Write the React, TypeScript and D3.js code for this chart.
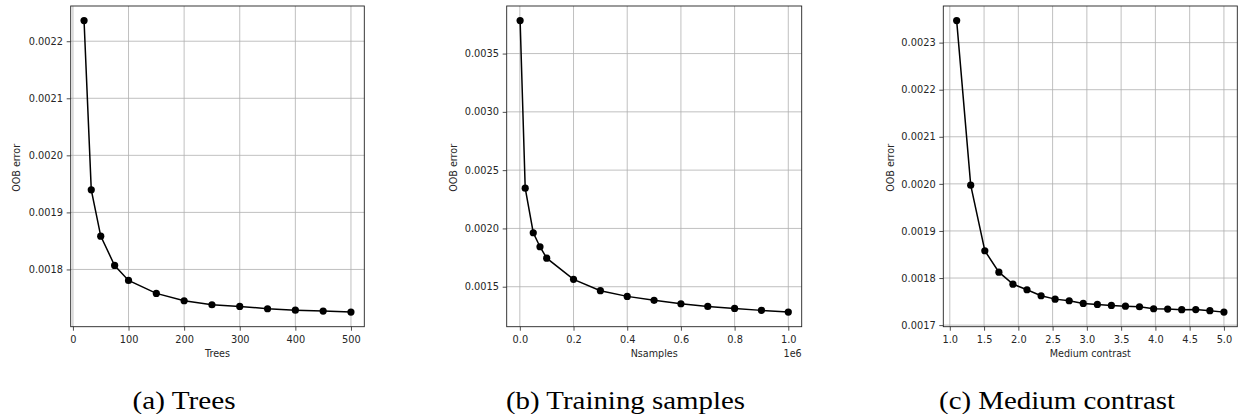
import React, { useEffect, useRef } from 'react';
import * as d3 from 'd3';

// (a) number of trees
const trees = [20, 33, 50, 75, 100, 150, 200, 250, 300, 350, 400, 450, 500];
const treesErr = [0.0022362, 0.0019396, 0.0018584, 0.001807, 0.0017807, 0.001758, 0.0017451,
    0.0017381, 0.0017352, 0.0017311, 0.0017287, 0.001727, 0.0017252];

// (b) training samples
const nSamples = [1000, 20000, 50000, 75000, 100000, 200000, 300000, 400000, 500000,
    600000, 700000, 800000, 900000, 1000000];
const nSamplesErr = [0.003783, 0.002345, 0.001963, 0.001843, 0.001745, 0.001563, 0.001466,
    0.001417, 0.001383, 0.001354, 0.001331, 0.001314, 0.001297, 0.001282];

// (c) medium contrast
const contrast = [1.1, 1.305, 1.511, 1.716, 1.921, 2.126, 2.332, 2.537, 2.742, 2.947,
    3.153, 3.358, 3.563, 3.768, 3.974, 4.179, 4.384, 4.589, 4.795, 5.0];
const contrastErr = [0.0023468, 0.0019972, 0.0018579, 0.0018125, 0.001787, 0.0017751, 0.0017624,
    0.0017552, 0.0017518, 0.0017461, 0.0017439, 0.0017418, 0.0017403, 0.001739, 0.0017348,
    0.001734, 0.0017327, 0.001733, 0.0017306, 0.0017276];

// tick labels
const treesTicks = [0, 100, 200, 300, 400, 500];
const nSamplesTicks = [0, 200000, 400000, 600000, 800000, 1000000];
const contrastTicks = [1.0, 1.5, 2.0, 2.5, 3.0, 3.5, 4.0, 4.5, 5.0];
const treesErrTicks = [0.0018, 0.0019, 0.002, 0.0021, 0.0022];
const nSamplesErrTicks = [0.0015, 0.002, 0.0025, 0.003, 0.0035];
const contrastErrTicks = [0.0017, 0.0018, 0.0019, 0.002, 0.0021, 0.0022, 0.0023];

const xLabels = ['Trees', 'Nsamples', 'Medium contrast'];
const captions = ['(a) Trees', '(b) Training samples', '(c) Medium contrast'];

function useD3(render: (svg: any) => void, deps: any[]) {
    const ref = useRef<SVGSVGElement>(null);
    useEffect(() => {
        if (ref.current) {
            const svg = d3.select(ref.current);
            svg.selectAll('*').remove();
            render(svg);
        }
    }, deps);
    return ref;
}

// matplotlib-like 5% margins
const padded = (v: number[]) => {
    const [lo, hi] = d3.extent(v) as [number, number];
    const m = (hi - lo) * 0.05;
    return [lo - m, hi + m];
};

const FONT = 'DejaVu Sans';
const SERIF = "'Liberation Serif', Tinos, 'Noto Serif', 'DejaVu Serif', FreeSerif, Georgia, serif";
const TXT = '#262626';

function App() {
    const top = 6, bottom = 326.7;

    const panels = [
        { xs: trees, ys: treesErr, xt: treesTicks, yt: treesErrTicks, left: 70.7, right: 364.3,
          yl: 20, cap: 184, capW: 103, xf: (d: number) => String(d), offset: '' },
        { xs: nSamples, ys: nSamplesErr, xt: nSamplesTicks, yt: nSamplesErrTicks, left: 506.7, right: 801.7,
          yl: 457, cap: 625.5, capW: 239, xf: (d: number) => (d / 1e6).toFixed(1), offset: '1e6' },
        { xs: contrast, ys: contrastErr, xt: contrastTicks, yt: contrastErrTicks, left: 943.3, right: 1237.3,
          yl: 894, cap: 1057, capW: 236, xf: (d: number) => d.toFixed(1), offset: '' },
    ];

    const ref = useD3((svg) => {
        document.body.style.margin = '0';
        svg.attr('width', 1238).attr('height', 414);

        panels.forEach((p, i) => {
            const g = svg.append('g');
            const x = d3.scaleLinear().domain(padded(p.xs)).range([p.left, p.right]);
            const y = d3.scaleLinear().domain(padded(p.ys)).range([bottom, top]);

            // grid
            g.append('g').selectAll('line').data(p.xt).join('line')
                .attr('x1', (d: number) => x(d)).attr('x2', (d: number) => x(d))
                .attr('y1', top).attr('y2', bottom)
                .attr('stroke', '#b0b0b0').attr('stroke-width', 0.8);
            g.append('g').selectAll('line').data(p.yt).join('line')
                .attr('y1', (d: number) => y(d)).attr('y2', (d: number) => y(d))
                .attr('x1', p.left).attr('x2', p.right)
                .attr('stroke', '#b0b0b0').attr('stroke-width', 0.8);

            // series
            const pts = d3.zip(p.xs, p.ys) as [number, number][];
            g.append('path').datum(pts)
                .attr('d', d3.line().x((d: any) => x(d[0])).y((d: any) => y(d[1])))
                .attr('fill', 'none').attr('stroke', '#000').attr('stroke-width', 1.5);
            g.append('g').selectAll('circle').data(pts).join('circle')
                .attr('cx', (d: any) => x(d[0])).attr('cy', (d: any) => y(d[1]))
                .attr('r', 3.6).attr('fill', '#000');

            // spines
            g.append('rect').attr('x', p.left).attr('y', top)
                .attr('width', p.right - p.left).attr('height', bottom - top)
                .attr('fill', 'none').attr('stroke', '#222').attr('stroke-width', 0.9);

            // axes
            const xa = g.append('g').attr('transform', `translate(0,${bottom})`)
                .call(d3.axisBottom(x).tickValues(p.xt).tickFormat(p.xf as any).tickSize(4).tickPadding(5.5));
            const ya = g.append('g').attr('transform', `translate(${p.left},0)`)
                .call(d3.axisLeft(y).tickValues(p.yt).tickFormat((d: any) => d.toFixed(4)).tickSize(4).tickPadding(3.7));
            [xa, ya].forEach((a) => {
                a.select('.domain').remove();
                a.attr('font-family', FONT).attr('font-size', 9.8);
                a.selectAll('line').attr('stroke', '#222').attr('stroke-width', 0.8);
                a.selectAll('text').attr('fill', TXT);
            });

            // labels
            const mid = (p.left + p.right) / 2;
            g.append('text').attr('x', mid).attr('y', 356.7).attr('text-anchor', 'middle')
                .attr('font-family', FONT).attr('font-size', 9.6).attr('fill', TXT).text(xLabels[i]);
            g.append('text')
                .attr('transform', `translate(${p.yl},${(top + bottom) / 2 + 1.5}) rotate(-90)`)
                .attr('text-anchor', 'middle')
                .attr('font-family', FONT).attr('font-size', 9.6).attr('fill', TXT).text('OOB error');
            if (p.offset) {
                g.append('text').attr('x', p.right).attr('y', 356.7).attr('text-anchor', 'end')
                    .attr('font-family', FONT).attr('font-size', 9.6).attr('fill', TXT).text(p.offset);
            }

            // caption
            g.append('text').attr('x', p.cap).attr('y', 409).attr('text-anchor', 'middle')
                .style('font-family', SERIF).attr('font-size', 25.5).attr('fill', '#000')
                .attr('textLength', p.capW).attr('lengthAdjust', 'spacingAndGlyphs')
                .text(captions[i]);
        });
    }, []);

    return (
        <svg id='oob-chart' ref={ref} style={{ display: 'block' }}></svg>
    );
}

export default App;
